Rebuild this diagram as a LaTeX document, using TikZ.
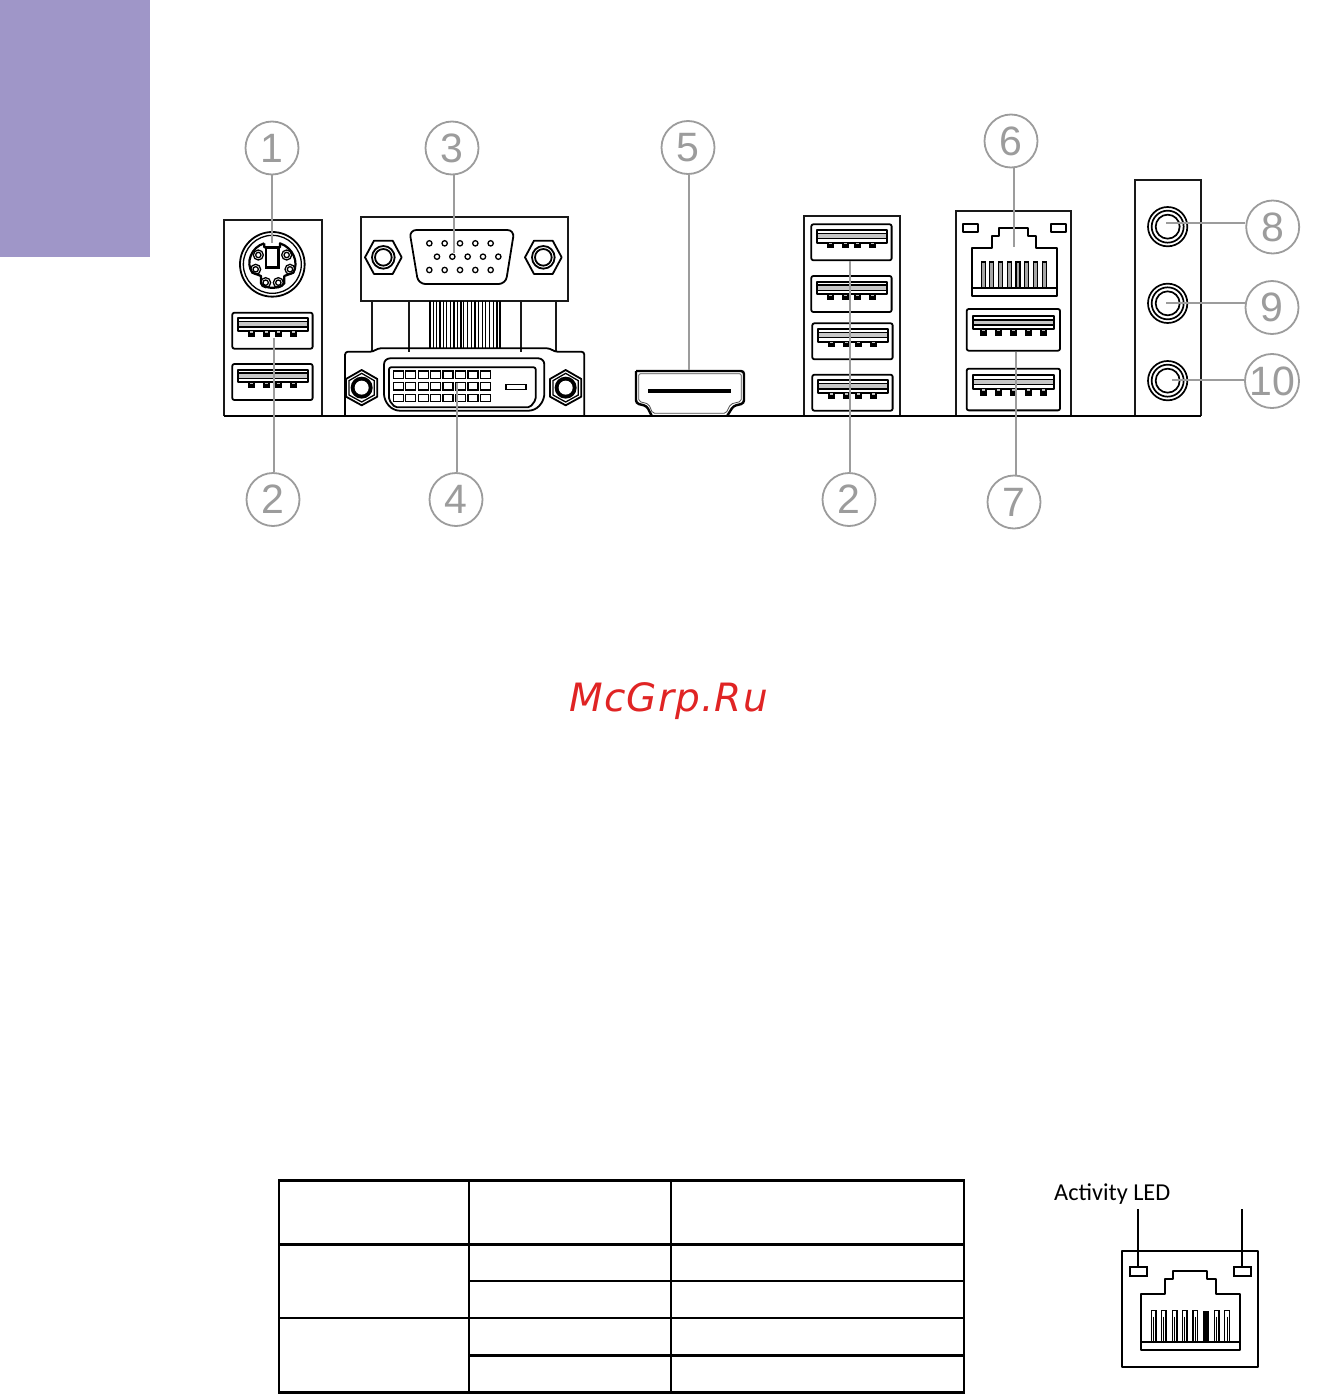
\documentclass[tikz,border=0pt]{standalone}
\usepackage{fontspec}
\setmainfont{Liberation Sans}
\newfontfamily\wmfont[LetterSpace=3]{DejaVu Sans}
\newfontfamily\ledfont{Carlito}
\definecolor{lilac}{HTML}{9F96C8}
\definecolor{calloutgray}{HTML}{9C9C9C}
\definecolor{wmred}{HTML}{E02424}
\newcommand{\cnum}[1]{\raisebox{-1.2pt}{#1}}
\tikzset{
  x=1pt,y=-1pt,
  panel/.style={draw=black!90,line width=1.8pt,line join=miter},
  port/.style={draw=black,line width=1.8pt,line join=round},
  thinport/.style={draw=black,line width=1.3pt},
  leader/.style={draw=calloutgray,line width=2pt},
  callout/.style={circle,draw=calloutgray,line width=1.8pt,minimum size=53pt,inner sep=0pt,text=calloutgray,font=\fontsize{41}{41}\selectfont},
  zoomed/.style={shift={#1},scale=0.33333},
  tableh/.style={draw=black,line width=2.8pt},
  tablev/.style={draw=black,line width=2.2pt},
}
% four-tab USB port, zoom coordinates
\newcommand{\usbfour}[2]{%
  \begin{scope}[zoomed={(#1,#2)}]
    \draw[port,rounded corners=2pt] (0,0) rectangle (241,108);
    \fill[black!22] (16,27) rectangle (226,43);
    \draw[thinport] (16,27) -- (226,27) (16,43) -- (226,43);
    \draw[port] (16,17) rectangle (226,55);
    \foreach \t in {57,102,138,184} {\fill[black] (\t-10,56) rectangle (\t+10,72); \fill[black!25] (\t-4,56) rectangle (\t+4,60);}
  \end{scope}}
% five-tab USB port, zoom coordinates
\newcommand{\usbfive}[2]{%
  \begin{scope}[zoomed={(#1,#2)}]
    \draw[port,rounded corners=2pt] (0,0) rectangle (280,125);
    \fill[black!22] (18,33) rectangle (262,48);
    \draw[thinport] (18,33) -- (262,33) (18,48) -- (262,48);
    \draw[port] (18,20) rectangle (262,61);
    \foreach \t in {50,95,140,185,230} {\fill[black] (\t-10,62) rectangle (\t+10,81); \fill[black!25] (\t-4,62) rectangle (\t+4,67);}
  \end{scope}}
\newcommand{\audiojack}[2]{%
  \draw[draw=black,line width=1.7pt] (#1,#2) circle [radius=59];
  \draw[draw=black,line width=1.7pt] (#1,#2) circle [radius=48];
  \draw[draw=black,line width=1.7pt] (#1,#2) circle [radius=36];}
\newcommand{\vgascrew}[1]{%
  \draw[port] (#1-55,262) -- (#1-28,212) -- (#1+28,212) -- (#1+55,262) -- (#1+28,312) -- (#1-28,312) -- cycle;
  \draw[port] (#1,262) circle [radius=34];
  \draw[port] (#1,262) circle [radius=25];}
\newcommand{\dviscrew}[1]{%
  \draw[port] (#1,600) -- (#1+47,627) -- (#1+47,680) -- (#1,706) -- (#1-47,680) -- (#1-47,627) -- cycle;
  \draw[thinport] (#1,610) -- (#1+38,632) -- (#1+38,675) -- (#1,696) -- (#1-38,675) -- (#1-38,632) -- cycle;
  \fill[black] (#1,653) circle [radius=33];
  \fill[white] (#1,653) circle [radius=21];}
\begin{document}
\begin{tikzpicture}
\useasboundingbox (0,0) rectangle (1324,1394);
\fill[white] (0,0) rectangle (1324,1394);
\fill[lilac] (0,0) rectangle (150,257);

% panels and base line
\draw[panel] (224,416) -- (224,220) -- (322,220) -- (322,416);
\draw[panel] (804,416) -- (804,216) -- (900,216) -- (900,416);
\draw[panel] (955.7,416) -- (955.7,211.3) -- (1071.3,211.3) -- (1071.3,416);
\draw[panel] (1135.3,416) -- (1135.3,180) -- (1200.7,180) -- (1200.7,416);
\draw[draw=black,line width=2pt] (224,416) -- (1201,416);

% PS/2 port
\begin{scope}[zoomed={(225,226)}]
  \draw[port] (142,115) circle [radius=97];
  \draw[thinport] (142,115) circle [radius=87];
  \draw[draw=black,line width=2.2pt,line join=round] (118,52) -- (118,64) -- (165,64) -- (165,52)
     .. controls (205,65) and (222,110) .. (205,140) -- (178,150) -- (178,172)
     .. controls (165,190) and (120,190) .. (108,172) -- (108,150) -- (82,140)
     .. controls (60,110) and (80,62) .. (118,52);
  \foreach \p/\q in {100/87,185/87,92/130,195/130,122/170,160/170} {
    \draw[thinport] (\p,\q) circle [radius=15];
    \draw[thinport] (\p,\q) circle [radius=8];}
  \draw[draw=black,line width=2.4pt] (123,66) rectangle (160,125);
\end{scope}
\usbfour{232.3}{312.7}
\usbfour{232.3}{364}

% VGA and DVI stack
\begin{scope}[zoomed={(215,170)}]
  \draw[panel] (438,140) rectangle (1060,393);
  \draw[port,rounded corners=7pt] (583,180) -- (898,180) -- (872,342) -- (610,342) -- cycle;
  \foreach \p in {643,689,735,781,827} {
    \draw[thinport] (\p,220) circle [radius=8];
    \draw[thinport] (\p,300) circle [radius=8];
    \draw[thinport] (\p+23,260) circle [radius=8];}
  \vgascrew{505}
  \vgascrew{985}
  \foreach \p in {470,582,918,1023} {\draw[panel] (\p,393) -- (\p,545);}
  \foreach \p in {645,656,664,675,686,694,706,717,728,738,746,758,770,780,790,802,812,824,835,846,855} {
    \draw[draw=black,line width=1.4pt] (\p,393) -- (\p,535);}
  \draw[port,rounded corners=3pt] (390,738) -- (390,545) -- (475,545) -- (488,535) -- (1005,535) -- (1018,545) -- (1108,545) -- (1108,738);
  \draw[port,rounded corners=6pt] (507,565) -- (988,565) -- (988,690) -- (960,722) -- (535,722) -- (507,690) -- cycle;
  \draw[port,rounded corners=2pt] (522,592) -- (962,592) -- (962,690) -- (945,712) -- (540,712) -- (522,690) -- cycle;
  \foreach \i in {0,...,7} {
    \draw[thinport] (535+\i*37.3,603) rectangle (565+\i*37.3,625);
    \draw[thinport] (535+\i*37.3,638) rectangle (565+\i*37.3,660);
    \draw[thinport] (535+\i*37.3,673) rectangle (565+\i*37.3,695);}
  \draw[thinport] (873,644) rectangle (933,658);
  \dviscrew{440}
  \dviscrew{1052}
\end{scope}

% HDMI
\begin{scope}[zoomed={(620,170)}]
  \draw[draw=black,line width=2.4pt,rounded corners=3pt] (48,603) -- (372,603) -- (372,700) -- (340,708) -- (322,737);
  \draw[draw=black,line width=2.4pt,rounded corners=3pt] (48,603) -- (48,700) -- (80,708) -- (95,737);
  \draw[draw=black!70,line width=.8pt,rounded corners=2pt] (56,611) -- (364,611) -- (364,694) -- (332,702) -- (318,730) -- (98,730) -- (86,702) -- (56,694) -- cycle;
  \draw[draw=black,line width=3.8pt] (85,662) -- (332,662);
\end{scope}

% stacked USB
\usbfour{811.3}{224.3}
\usbfour{811.3}{276}
\usbfour{812.3}{323.3}
\usbfour{812.3}{374.7}

% LAN and USB
\begin{scope}[zoomed={(940,170)}]
  \draw[port] (68,163) rectangle (113,187);
  \draw[port] (333,163) rectangle (378,187);
  \draw[port] (97,235) -- (155,235) -- (155,198) -- (178,198) -- (178,175) -- (265,175) -- (265,198) -- (288,198) -- (288,235) -- (350,235) -- (350,377) -- (97,377) -- cycle;
  \foreach \p in {130,155,182,208,234,260,287,314} {
    \fill[black!35] (\p-6,276) rectangle (\p+6,355);
    \draw[thinport] (\p-6,355) -- (\p-6,276) -- (\p+6,276) -- (\p+6,355);}
  \draw[draw=black,line width=2.2pt] (97,355) -- (350,355);
\end{scope}
\usbfive{966.7}{309}
\usbfive{966.7}{368.7}

% audio jacks
\begin{scope}[zoomed={(940,170)}]
  \audiojack{683}{170}
  \audiojack{683}{400}
  \audiojack{683}{632}
\end{scope}

% callouts
\coordinate (p1) at (272,243);
\coordinate (p2a) at (274,338);
\coordinate (p2b) at (849.7,260.7);
\coordinate (p3) at (453.7,253);
\coordinate (p4) at (456.7,383);
\coordinate (p5) at (689,370);
\coordinate (p6) at (1013.7,247);
\coordinate (p7) at (1016,351.7);
\coordinate (p8) at (1166,222.5);
\coordinate (p9) at (1166,303);
\coordinate (p10) at (1172,380);
\node[callout] (c1) at (272,148) {\cnum{1}};
\node[callout] (c3) at (452,148) {\cnum{3}};
\node[callout] (c5) at (688,147.5) {\cnum{5}};
\node[callout] (c6) at (1011,141) {\cnum{6}};
\node[callout] (c2a) at (273,499.5) {\cnum{2}};
\node[callout] (c4) at (456,499.5) {\cnum{4}};
\node[callout] (c2b) at (849,499.5) {\cnum{2}};
\node[callout] (c7) at (1014,502) {\cnum{7}};
\node[callout] (c8) at (1272.7,227) {\cnum{8}};
\node[callout] (c9) at (1272,307.5) {\cnum{9}};
\node[callout] (c10) at (1272,381) {\cnum{10}};
\draw[leader] (c1.south -| p1) -- (p1);
\draw[leader] (c3.south -| p3) -- (p3);
\draw[leader] (c5.south -| p5) -- (p5);
\draw[leader] (c6.south -| p6) -- (p6);
\draw[leader] (c2a.north -| p2a) -- (p2a);
\draw[leader] (c4.north -| p4) -- (p4);
\draw[leader] (c2b.north -| p2b) -- (p2b);
\draw[leader] (c7.north -| p7) -- (p7);
\draw[leader] (c8.west |- p8) -- (p8);
\draw[leader] (c9.west |- p9) -- (p9);
\draw[leader] (c10.west |- p10) -- (p10);

% watermark
\node[text=wmred,inner sep=0pt,font={\wmfont\itshape\fontsize{39}{39}\selectfont}] (wm) at (668.5,701.5) {McGrp.Ru};

% table
\foreach \q in {1180.5,1244.5,1318,1392.5} {\draw[tableh] (278,\q) -- (965,\q);}
\foreach \q in {1281,1355.5} {\draw[tableh] (469,\q) -- (965,\q);}
\foreach \p in {279,469,671,964} {\draw[tablev] (\p,1180.5) -- (\p,1392.5);}

% LED diagram
\node[anchor=west,inner sep=0pt,font={\ledfont\fontsize{24.3}{24.3}\selectfont}] (ledtext) at (1054,1194) {Activity LED};
\begin{scope}[zoomed={(1040,1170)}]
  \draw[port] (245,243) rectangle (655,590);
  \node[draw=black,line width=1.8pt,inner sep=0pt,minimum width=17pt,minimum height=9pt] (ledl) at (296,304) {};
  \node[draw=black,line width=1.8pt,inner sep=0pt,minimum width=17pt,minimum height=9pt] (ledr) at (608,304) {};
  \coordinate (ledlt) at (293,118);
  \coordinate (ledrt) at (607,118);
  \draw[draw=black,line width=2pt] (ledlt) -- (ledlt |- ledl.north);
  \draw[draw=black,line width=2pt] (ledrt) -- (ledrt |- ledr.north);
  \draw[port] (303,372) -- (375,372) -- (375,327) -- (400,327) -- (400,302) -- (502,302) -- (502,327) -- (527,327) -- (527,372) -- (600,372) -- (600,540) -- (303,540) -- cycle;
  \foreach \p in {341,371,404,434,466,530,561} {
    \draw[thinport] (\p-7,515) -- (\p-7,422) -- (\p+7,422) -- (\p+7,515);
    \draw[draw=black,line width=.9pt] (\p,440) -- (\p,515);}
  \fill[black] (490,422) rectangle (506,515);
  \draw[draw=black,line width=2.2pt] (303,515) -- (600,515);
\end{scope}
\end{tikzpicture}
\end{document}
